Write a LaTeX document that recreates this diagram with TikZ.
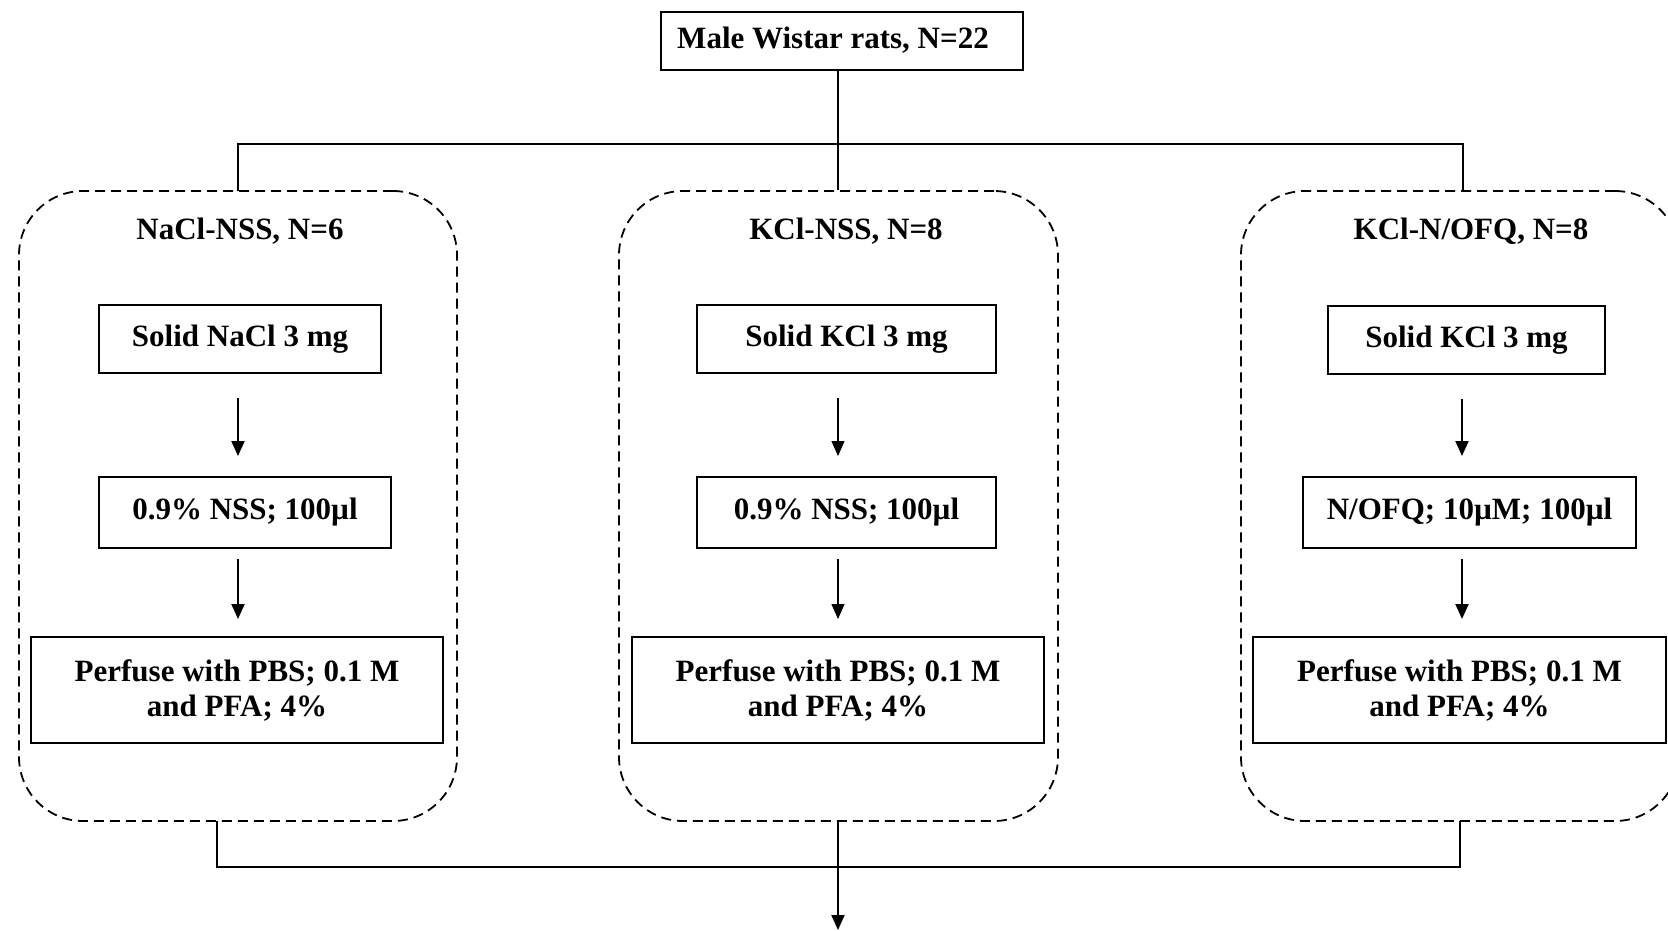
\documentclass[tikz,border=0pt]{standalone}
\usepackage{fontspec}
\setmainfont{Liberation Serif}
\usetikzlibrary{arrows.meta}
\tikzset{
  txt/.style={font=\fontsize{31}{35}\selectfont\bfseries},
  solidbox/.style={txt, draw, line width=2pt, inner sep=0pt, align=center},
  groupbox/.style={draw, dashed, dash pattern=on 10pt off 6pt, line width=1.8pt, rounded corners=64pt, inner sep=0pt},
  conn/.style={line width=2pt},
  arr/.style={line width=2pt, -{Triangle[width=13pt,length=15pt]}},
  thinarr/.style={line width=1.1pt, -{Triangle[width=13pt,length=15pt]}},
}
\begin{document}
\begin{tikzpicture}[x=1pt,y=-1pt]
\useasboundingbox (0,0) rectangle (1668,930);
\clip (0,0) rectangle (1668,930);
% top
\node[solidbox, minimum width=362pt, minimum height=58pt] (top) at (842,41) {};
\node[txt] (toptxt) at (833,40) {Male Wistar rats, N=22};
% group boxes
\node[groupbox, minimum width=438pt, minimum height=630pt] (g1) at (238,506) {};
\node[groupbox, minimum width=439pt, minimum height=630pt] (g2) at (838.5,506) {};
\node[groupbox, minimum width=438pt, minimum height=630pt] (g3) at (1460,506) {};
% titles
\node[txt] (t1) at (240,231) {NaCl-NSS, N=6};
\node[txt] (t2) at (846,231) {KCl-NSS, N=8};
\node[txt] (t3) at (1471,231) {KCl-N/OFQ, N=8};
% left column
\node[solidbox, minimum width=282pt, minimum height=68pt] (s1) at (240,339) {Solid NaCl 3 mg};
\node[solidbox, minimum width=292pt, minimum height=71pt] (n1) at (245,512.5) {0.9\% NSS; 100µl};
\node[solidbox, minimum width=412pt, minimum height=106pt] (p1) at (237,690) {Perfuse with PBS; 0.1 M\\and PFA; 4\%};
% middle column
\node[solidbox, minimum width=299pt, minimum height=68pt] (s2) at (846.5,339) {Solid KCl 3 mg};
\node[solidbox, minimum width=299pt, minimum height=71pt] (n2) at (846.5,512.5) {0.9\% NSS; 100µl};
\node[solidbox, minimum width=412pt, minimum height=106pt] (p2) at (838,690) {Perfuse with PBS; 0.1 M\\and PFA; 4\%};
% right column
\node[solidbox, minimum width=277pt, minimum height=68pt] (s3) at (1466.5,340) {Solid KCl 3 mg};
\node[solidbox, minimum width=333pt, minimum height=71pt] (n3) at (1469.5,512.5) {N/OFQ; 10µM; 100µl};
\node[solidbox, minimum width=413pt, minimum height=106pt] (p3) at (1459.5,690) {Perfuse with PBS; 0.1 M\\and PFA; 4\%};
% top tree
\coordinate (j) at (838,144);
\coordinate (d1) at (238,191);
\coordinate (d3) at (1463,191);
\draw[conn] (top.south -| j) -- (j);
\draw[conn] (d1) |- (j) -| (d3);
\draw[conn] (j) -- (g2.north -| j);
% inner arrows
\draw[arr, shorten <=24pt, shorten >=20pt] (s1.south -| g1.center) -- (n1.north -| g1.center);
\draw[arr, shorten <=10pt, shorten >=17pt] (n1.south -| g1.center) -- (p1.north -| g1.center);
\draw[thinarr, shorten <=24pt, shorten >=20pt] (s2.south -| j) -- (n2.north -| j);
\draw[thinarr, shorten <=10pt, shorten >=17pt] (n2.south -| j) -- (p2.north -| j);
\coordinate (rx) at (1462,0);
\draw[arr, shorten <=24pt, shorten >=20pt] (s3.south -| rx) -- (n3.north -| rx);
\draw[arr, shorten <=10pt, shorten >=17pt] (n3.south -| rx) -- (p3.north -| rx);
% bottom tree
\coordinate (b1) at (217,821);
\coordinate (b3) at (1460,821);
\coordinate (k) at (838,867);
\coordinate (out) at (838,930);
\draw[conn] (b1) |- (k) -| (b3);
\draw[arr] (g2.south -| k) -- (out);
\end{tikzpicture}
\end{document}
